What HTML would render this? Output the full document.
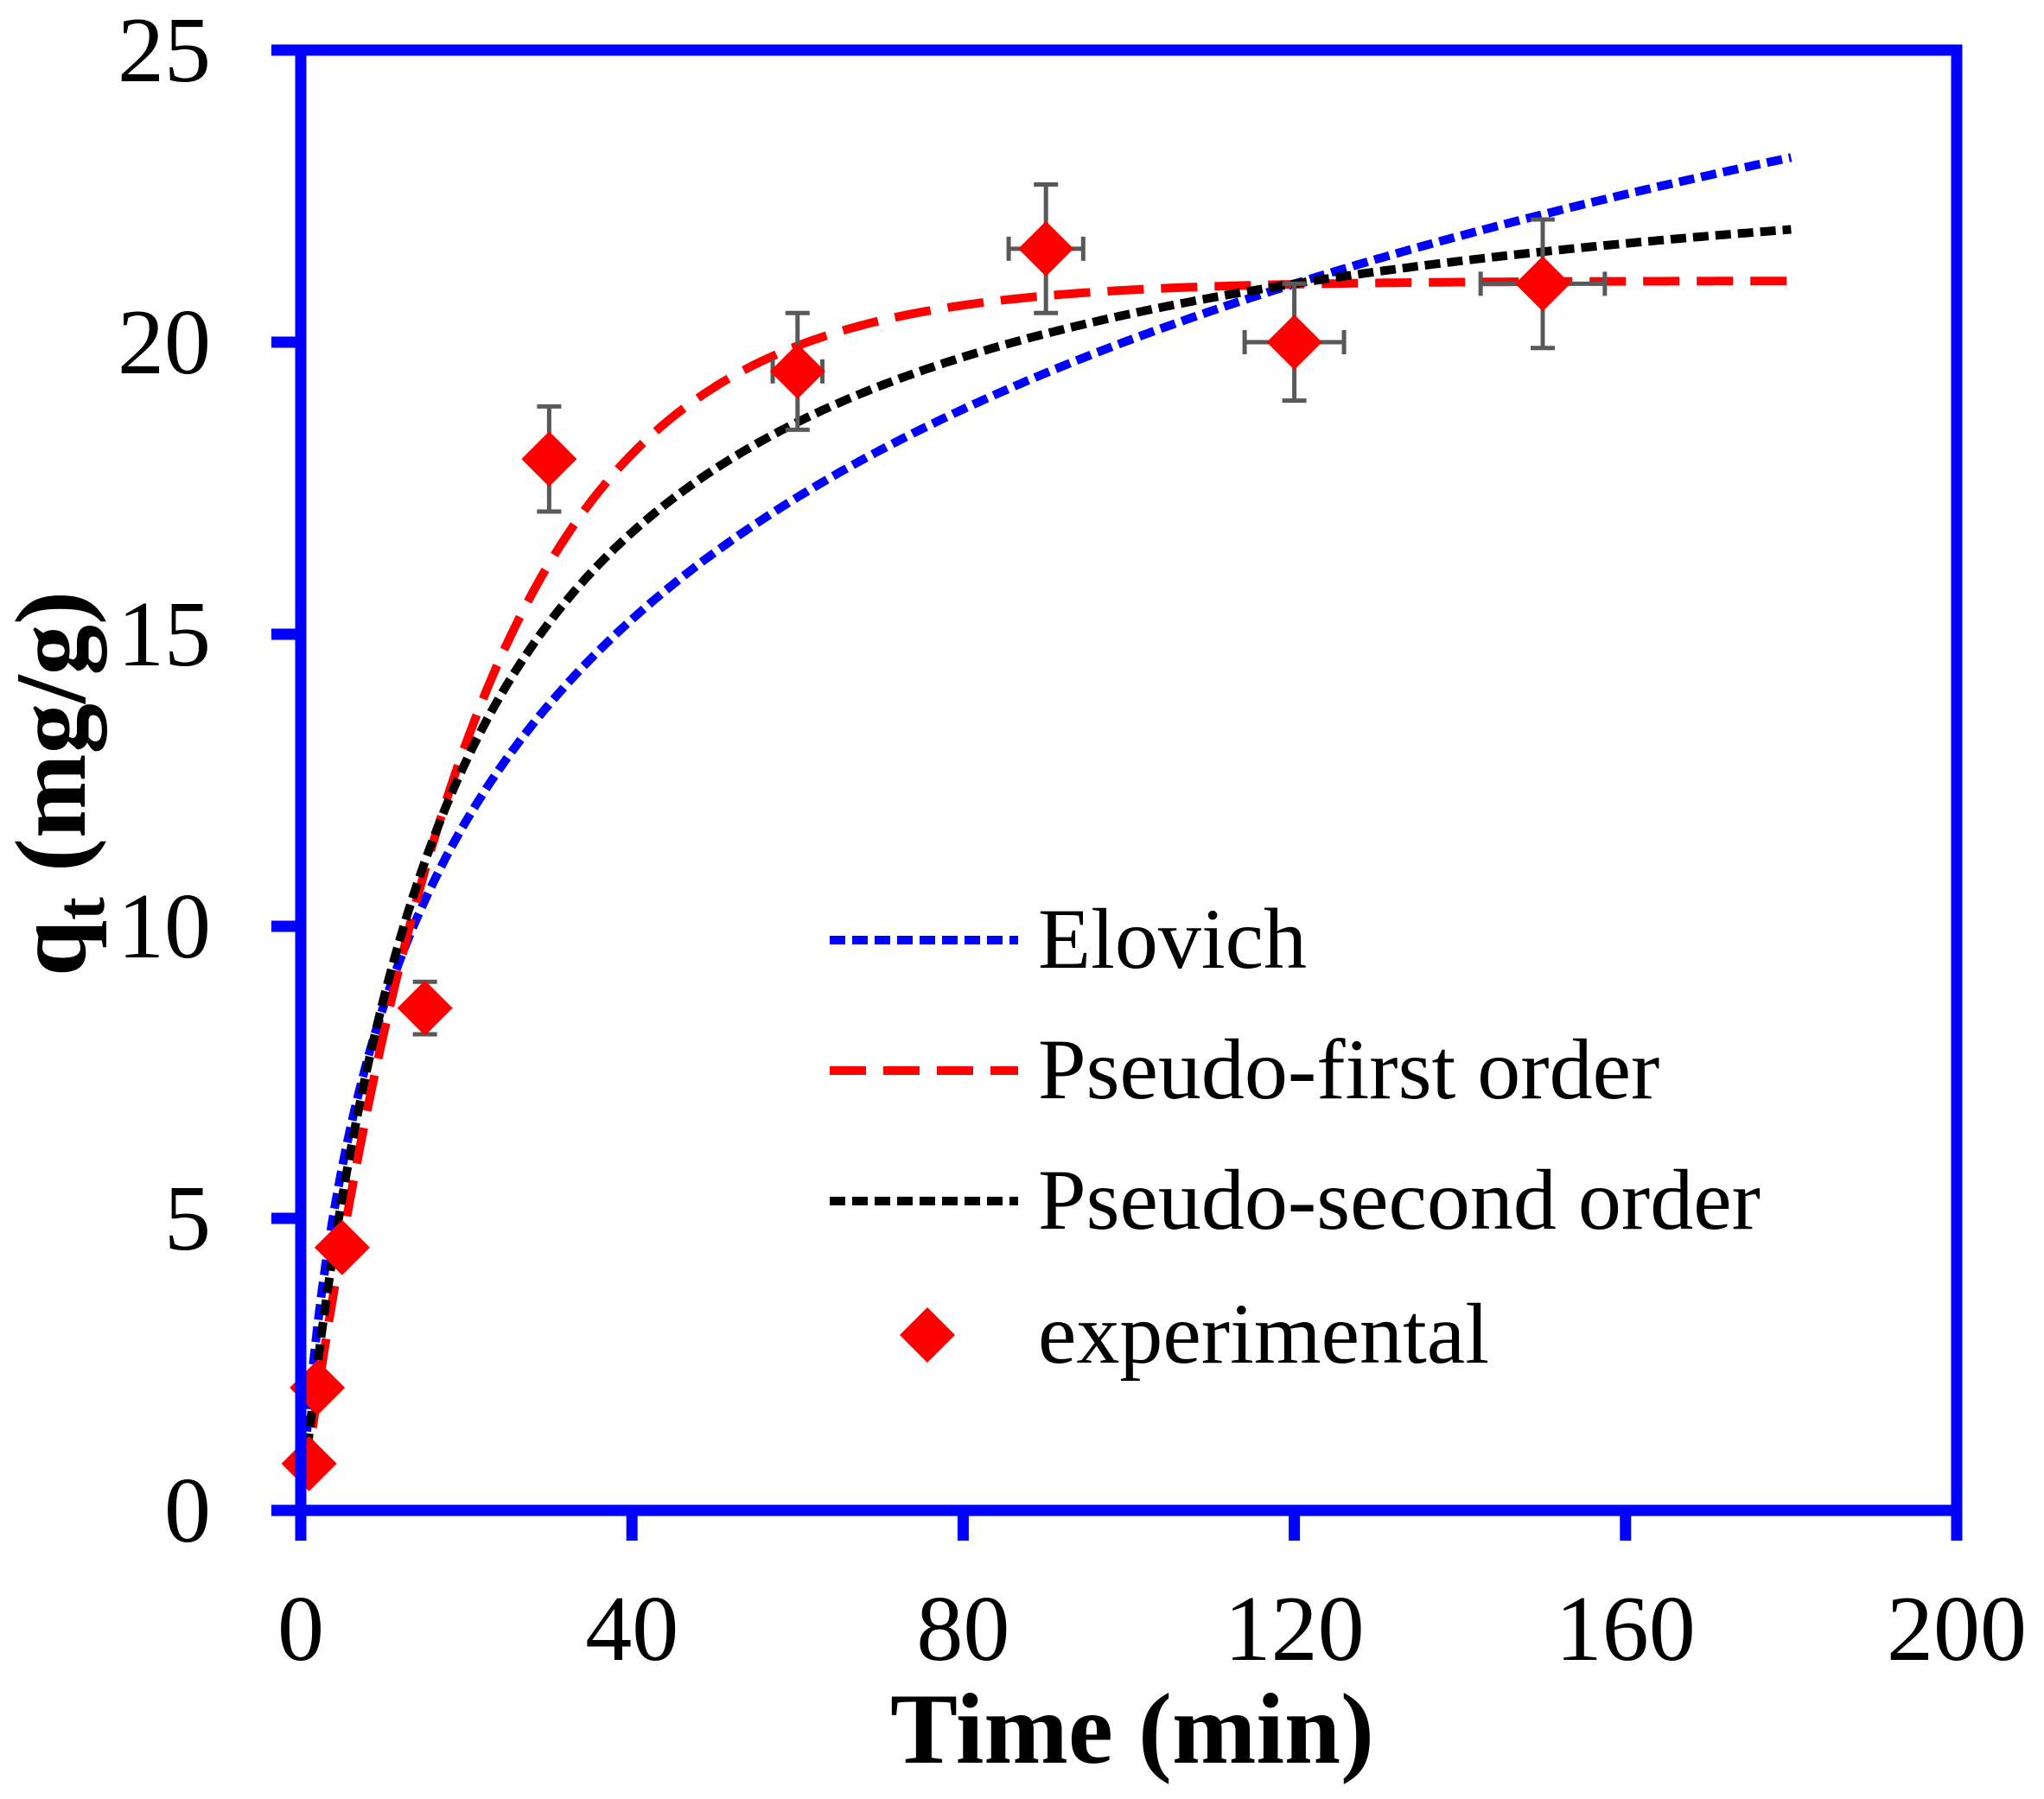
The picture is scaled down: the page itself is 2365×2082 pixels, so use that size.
<!DOCTYPE html>
<html><head><meta charset="utf-8"><style>
html,body{margin:0;padding:0;background:#fff;}
svg{display:block;font-family:"Liberation Serif",serif;}
</style></head><body>
<svg id="s" width="2365" height="2082" viewBox="0 0 2365 2082" xmlns="http://www.w3.org/2000/svg">
<g id="curves"></g>
<g id="err" stroke="#595959" stroke-width="5" fill="none"></g>
<g id="pts" fill="#ff0000"></g>
<g stroke="#0000ff" stroke-width="13" fill="none">
<rect x="348" y="58" width="1916" height="1690"/>
<g id="ticks"></g>
</g>
<g id="labels" font-size="108" fill="#000"></g>
<text x="1310" y="2040" font-size="117" font-weight="bold" text-anchor="middle">Time (min)</text>
<text transform="translate(98,907) rotate(-90)" font-size="117" font-weight="bold" text-anchor="middle">q<tspan font-size="80" dy="22">t</tspan><tspan dy="-22"> (mg/g)</tspan></text>
<g font-size="100">
<line x1="960" y1="1088" x2="1178" y2="1088" stroke="#0000ff" stroke-width="10" stroke-dasharray="18,8"/>
<text x="1201" y="1120">Elovich</text>
<line x1="960" y1="1239" x2="1178" y2="1239" stroke="#ff0000" stroke-width="10" stroke-dasharray="42,20"/>
<text x="1201" y="1271">Pseudo-first order</text>
<line x1="960" y1="1390" x2="1178" y2="1390" stroke="#000" stroke-width="10" stroke-dasharray="18,8"/>
<text x="1201" y="1422">Pseudo-second order</text>
<path d="M1073 1513 L1105 1545 L1073 1577 L1041 1545 Z" fill="#ff0000"/>
<text x="1201" y="1577">experimental</text>
</g>
</svg>
<script>
var X=function(t){return 348+t*9.58;},Y=function(q){return 1748-q*67.6;};
var NS="http://www.w3.org/2000/svg";
function el(p,n,a){var e=document.createElementNS(NS,n);for(var k in a)e.setAttribute(k,a[k]);p.appendChild(e);return e;}
function path(f,t0,col,dash){var d="";for(var t=t0;t<=180;t+=0.5){d+=(d?"L":"M")+X(t).toFixed(1)+" "+Y(f(t)).toFixed(1);}
el(document.getElementById("curves"),"path",{d:d,stroke:col,"stroke-width":10,fill:"none","stroke-dasharray":dash});}
path(function(t){return 5.43*Math.log(1+0.39*t);},0.5,"#0000ff","18,8");
path(function(t){return 21.05*(1-Math.exp(-0.049*t));},0.5,"#ff0000","42,20");
path(function(t){var a=0.0572;return 24.06*a*t/(1+a*t);},0.5,"#000","18,8");
var pts=[[1,0.8,0],[2,2.1,0],[5,4.5,0],[15,8.6,0.45],[30,18,0.9],[60,19.5,1],[90,21.6,1.1],[120,20,1],[150,21,1.1]];
var eg=document.getElementById("err"),pg=document.getElementById("pts");
pts.forEach(function(p){var x=X(p[0]),y=Y(p[1]);
if(p[2]){var y1=Y(p[1]+p[2]),y2=Y(p[1]-p[2]);el(eg,"line",{x1:x,y1:y1,x2:x,y2:y2});el(eg,"line",{x1:x-14,y1:y1,x2:x+14,y2:y1});el(eg,"line",{x1:x-14,y1:y2,x2:x+14,y2:y2});}
if(p[0]>=60){var dx=p[0]*0.05*9.58;el(eg,"line",{x1:x-dx,y1:y,x2:x+dx,y2:y});el(eg,"line",{x1:x-dx,y1:y-14,x2:x-dx,y2:y+14});el(eg,"line",{x1:x+dx,y1:y-14,x2:x+dx,y2:y+14});}
el(pg,"path",{d:"M"+x+" "+(y-32)+"L"+(x+32)+" "+y+"L"+x+" "+(y+32)+"L"+(x-32)+" "+y+"Z"});});
var tg=document.getElementById("ticks"),lg=document.getElementById("labels");
for(var i=0;i<=5;i++){var y=Y(i*5);el(tg,"line",{x1:314,y1:y,x2:348,y2:y});var t=el(lg,"text",{x:244,y:y+36,"text-anchor":"end"});t.textContent=i*5;}
for(var i=0;i<=5;i++){var x=X(i*40);el(tg,"line",{x1:x,y1:1748,x2:x,y2:1783});var t=el(lg,"text",{x:x,y:1921,"text-anchor":"middle"});t.textContent=i*40;}
</script>
</body></html>
